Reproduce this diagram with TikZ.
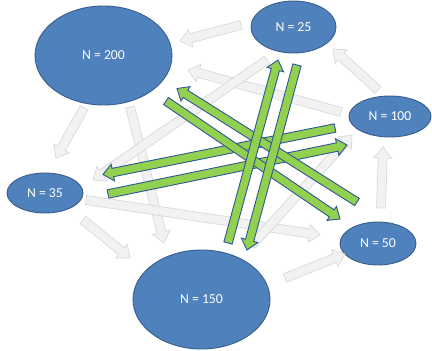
\documentclass[tikz,border=0pt]{standalone}
\usepackage{fontspec}
\setmainfont{Carlito}
\usetikzlibrary{shapes.geometric,calc}
\definecolor{nodeblue}{HTML}{4F81BD}
\definecolor{nodeline}{HTML}{385D8A}
\definecolor{grayfill}{HTML}{F2F2F2}
\definecolor{grayline}{HTML}{D9D9D9}
\definecolor{greenfill}{HTML}{92D050}
\definecolor{greenline}{HTML}{2F5597}
% #1 tail, #2 head, #3 body half width, #4 head half width, #5 head length, #6 style
\newcommand\myblockarrow[6]{%
  \coordinate (bh) at ($(#2)!#5!(#1)$);
  \path[#6] ($(#1)!#3!90:(#2)$) -- ($(bh)!#3!90:(#2)$) -- ($(bh)!#4!90:(#2)$)
    -- (#2) -- ($(bh)!#4!-90:(#2)$) -- ($(bh)!#3!-90:(#2)$)
    -- ($(#1)!#3!-90:(#2)$) -- cycle;
}
\newcommand\grayarrow[2]{\myblockarrow{#1}{#2}{4.5pt}{9pt}{11pt}{grayarr}}
\newcommand\greenarrow[2]{\myblockarrow{#1}{#2}{4.25pt}{8.5pt}{10pt}{greenarr}}
\begin{document}
\begin{tikzpicture}[x=1pt,y=-1pt,
  ell/.style={ellipse, draw=nodeline, line width=0.9pt, fill=nodeblue,
    text=white, inner sep=0pt, font=\fontsize{13.7}{16}\selectfont},
  grayarr/.style={fill=grayfill, draw=grayline, line width=0.7pt, line join=miter},
  greenarr/.style={fill=greenfill, draw=greenline, line width=0.9pt, line join=miter}]
\useasboundingbox (0,0) rectangle (432,351);
% nodes
\node[ell, minimum width=137pt, minimum height=99pt] (n200) at (103.5,55.5) {N = 200};
\node[ell, minimum width=85pt, minimum height=52pt] (n25) at (293.5,27) {N = 25};
\node[ell, minimum width=82pt, minimum height=41pt] (n100) at (390,116.5) {N = 100};
\node[ell, minimum width=76pt, minimum height=40pt] (n35) at (45,193) {N = 35};
\node[ell, minimum width=76pt, minimum height=43pt] (n50) at (378,243.5) {N = 50};
\node[ell, minimum width=137pt, minimum height=99pt] (n150) at (201.5,299.5) {N = 150};
% gray arrow end points
\coordinate (g1t) at (241,25);  \coordinate (g1h) at (180,41);
\coordinate (g2t) at (341,112); \coordinate (g2h) at (188,70);
\coordinate (g3t) at (378,90);  \coordinate (g3h) at (333,49);
\coordinate (g4t) at (381,208); \coordinate (g4h) at (383,147);
\coordinate (g5t) at (84,108);  \coordinate (g5h) at (56,158);
\coordinate (g6t) at (130,107); \coordinate (g6h) at (164,243);
\coordinate (g7t) at (83,220);  \coordinate (g7h) at (130,258);
\coordinate (g8t) at (86,200);  \coordinate (g8h) at (320,235);
\coordinate (g9t) at (285,278); \coordinate (g9h) at (345,254);
\coordinate (g10t) at (267,60); \coordinate (g10h) at (93,180);
\coordinate (g11t) at (252,245); \coordinate (g11h) at (352,135);
\grayarrow{g1t}{g1h}
\grayarrow{g2t}{g2h}
\grayarrow{g3t}{g3h}
\grayarrow{g4t}{g4h}
\grayarrow{g5t}{g5h}
\grayarrow{g6t}{g6h}
\grayarrow{g7t}{g7h}
\grayarrow{g8t}{g8h}
\grayarrow{g9t}{g9h}
\grayarrow{g10t}{g10h}
\grayarrow{g11t}{g11h}
% green arrow end points
\coordinate (G3t) at (335,128); \coordinate (G3h) at (103,174.5);
\coordinate (G4t) at (108,194); \coordinate (G4h) at (347,145);
\coordinate (G1t) at (357,202); \coordinate (G1h) at (177,88.5);
\coordinate (G2t) at (166,101); \coordinate (G2h) at (340,219);
\coordinate (G5t) at (228,243); \coordinate (G5h) at (278,60);
\coordinate (G6t) at (297,65);  \coordinate (G6h) at (247,250);
\greenarrow{G3t}{G3h}
\greenarrow{G4t}{G4h}
\greenarrow{G1t}{G1h}
\greenarrow{G2t}{G2h}
\greenarrow{G5t}{G5h}
\greenarrow{G6t}{G6h}
\end{tikzpicture}
\end{document}
